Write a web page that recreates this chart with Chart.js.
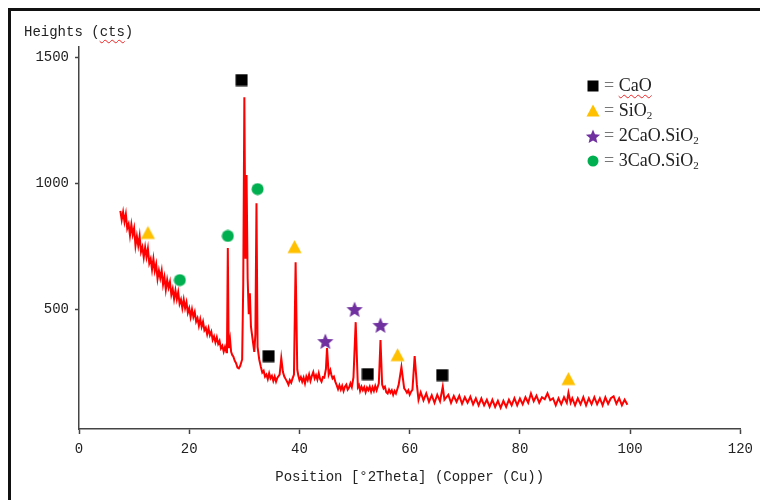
<!DOCTYPE html>
<html>
<head>
<meta charset="utf-8">
<script src="https://cdn.jsdelivr.net/npm/chart.js@4"></script>
<style>
  body { margin: 0; background: #fff; }
  #wrap { position: relative; width: 760px; height: 500px; overflow: hidden; }
  #frame { position: absolute; left: 8px; top: 8px; width: 800px; height: 600px;
           border-top: 3px solid #111; border-left: 3px solid #111; }
  canvas { position: absolute; left: 0; top: 0; }
  .ytitle { position: absolute; left: 24px; top: 24px; font: 14px "Liberation Mono", monospace;
            color: #222; line-height: 16px; white-space: nowrap; }
  .squiggle { text-decoration: underline wavy #e22; text-decoration-thickness: 1px; text-underline-offset: 3px; }
  .leg { position: absolute; font: 18px "Liberation Serif", "Times New Roman", serif; color: #222;
         line-height: 25px; height: 25px; white-space: nowrap; }
  .leg .eq { color: #777; }
  .leg sub { font-size: 11px; vertical-align: -3px; line-height: 0; }
  .mk { position: absolute; }
</style>
</head>
<body>
<div id="wrap">
  <div id="frame"></div>
  <canvas id="xrd" width="760" height="500"></canvas>
  <div class="ytitle">Heights (<span class="squiggle">cts</span>)</div>
  <div id="legend"></div>
</div>
<script>
const twoTheta = [7.5, 7.75, 8.0, 8.25, 8.5, 8.75, 9.0, 9.25, 9.5, 9.75, 10.0, 10.25, 10.5, 10.75,
  11.0, 11.25, 11.5, 11.75, 12.0, 12.25, 12.5, 12.75, 13.0, 13.25, 13.5, 13.75, 14.0, 14.25, 14.5, 14.75,
  15.0, 15.25, 15.5, 15.75, 16.0, 16.25, 16.5, 16.75, 17.0, 17.25, 17.5, 17.75, 18.0, 18.25, 18.5, 18.75,
  19.0, 19.25, 19.5, 19.75, 20.0, 20.25, 20.5, 20.75, 21.0, 21.25, 21.5, 21.75, 22.0, 22.25, 22.5, 22.75,
  23.0, 23.25, 23.5, 23.75, 24.0, 24.25, 24.5, 24.75, 25.0, 25.25, 25.5, 25.75, 26.0, 26.25, 26.5, 26.75,
  26.85, 27.0, 27.15, 27.4, 27.6, 27.8, 28.0, 28.25, 28.5, 28.75, 29.0, 29.25,
  29.6, 29.8, 30.0, 30.2, 30.4, 30.6, 30.8, 31.0, 31.2, 31.5, 31.8, 32.0, 32.2, 32.4, 32.7,
  33.0, 33.25, 33.5, 33.75, 34.0, 34.25, 34.5, 34.75, 35.0, 35.25, 35.5, 35.75, 36.0, 36.4, 36.7, 37.0,
  37.25, 37.5, 37.75, 38.0, 38.25, 38.5, 38.75, 39.0, 39.3, 39.6, 39.8, 40.0, 40.25, 40.5, 40.75, 41.0,
  41.25, 41.5, 41.75, 42.0, 42.25, 42.5, 42.75, 43.0, 43.25, 43.5, 43.75, 44.0, 44.25, 44.5, 44.8, 45.0,
  45.3, 45.6, 45.8, 46.0, 46.25, 46.5, 46.75, 47.0, 47.25, 47.5, 47.75, 48.0, 48.25, 48.5, 48.75, 49.0,
  49.25, 49.5, 49.8, 50.2, 50.6, 50.8, 51.0, 51.25, 51.5, 51.75, 52.0, 52.25, 52.5, 52.75, 53.0, 53.25,
  53.5, 53.75, 54.0, 54.4, 54.7, 55.0, 55.25, 55.5, 55.75, 56.0, 56.25, 56.5, 56.75, 57.0, 57.25, 57.5,
  57.75, 58.0, 58.5, 59.0, 59.25, 59.5, 59.75, 60.0, 60.25, 60.5, 60.9, 61.3, 61.6, 62.0, 62.5, 63.0,
  63.5, 64.0, 64.5, 65.0, 65.5, 66.0, 66.3, 67.0, 67.5, 68.0, 68.5, 69.0, 69.5, 70.0, 70.5, 71.0,
  71.5, 72.0, 72.5, 73.0, 73.5, 74.0, 74.5, 75.0, 75.5, 76.0, 76.5, 77.0, 77.5, 78.0, 78.5, 79.0,
  79.5, 80.0, 80.5, 81.0, 81.5, 82.0, 82.5, 83.0, 83.5, 84.0, 84.5, 85.0, 85.5, 86.0, 86.5, 87.0,
  87.5, 88.0, 88.5, 88.8, 89.2, 89.5, 90.0, 90.5, 91.0, 91.5, 92.0, 92.5, 93.0, 93.5, 94.0, 94.5,
  95.0, 95.5, 96.0, 96.5, 97.0, 97.5, 98.0, 98.5, 99.0, 99.5];
const counts = [890, 854, 885, 846, 877, 820, 837, 792, 835, 796, 821, 752, 789, 752,
  790, 727, 746, 705, 745, 707, 740, 682, 699, 657, 699, 652, 678, 620, 653, 623,
  653, 598, 627, 577, 616, 585, 608, 557, 580, 540, 574, 539, 567, 521, 538, 504,
  538, 504, 527, 485, 503, 469, 499, 469, 488, 450, 464, 434, 460, 430, 450, 416,
  426, 400, 424, 396, 410, 378, 392, 368, 388, 362, 374, 344, 354, 331, 350, 329,
  340, 742, 345, 380, 330, 318, 312, 295, 285, 268, 265, 275,
  300, 600, 1341, 700, 1032, 620, 480, 563, 430, 380, 330, 400, 920, 350, 300,
  270, 248, 255, 232, 240, 222, 245, 225, 235, 215, 232, 212, 228, 240, 305, 250,
  232, 222, 212, 200, 218, 208, 225, 240, 686, 260, 235, 218, 230, 212, 228, 205,
  232, 218, 240, 215, 235, 250, 225, 238, 220, 245, 222, 212, 230, 228, 262, 345,
  240, 258, 238, 225, 232, 212, 198, 182, 198, 180, 195, 175, 192, 200, 180, 188,
  205, 190, 230, 448, 190, 198, 175, 192, 178, 190, 170, 188, 178, 192, 172, 190,
  175, 195, 178, 205, 377, 200, 185, 192, 170, 165, 180, 168, 178, 160, 175, 165,
  182, 200, 270, 185, 178, 168, 178, 160, 172, 180, 313, 200, 140, 170, 138, 165,
  132, 158, 128, 160, 134, 192, 140, 160, 128, 155, 132, 156, 124, 150, 128, 152,
  122, 146, 118, 145, 118, 140, 112, 140, 112, 136, 108, 136, 112, 140, 118, 146,
  118, 145, 122, 150, 128, 165, 134, 156, 128, 150, 142, 166, 138, 146, 118, 146,
  122, 150, 128, 168, 128, 146, 118, 146, 122, 150, 118, 146, 122, 150, 122, 146,
  118, 150, 124, 146, 154, 124, 146, 118, 140, 120];

// phase markers
const caoX = [29.5, 34.4, 52.4, 65.9];
const caoY = [1409, 313, 242, 238];
const sio2X = [12.5, 39.1, 57.8, 88.8];
const sio2Y = [802, 746, 317, 222];
const c2sX = [44.7, 50.0, 54.7];
const c2sY = [373, 500, 437];
const c3sX = [18.3, 27.0, 32.4];
const c3sY = [615, 790, 976];

const xTicks = [0, 20, 40, 60, 80, 100, 120];
const yTicks = [500, 1000, 1500];

function pts(xs, ys) { return xs.map((x, i) => ({ x: x, y: ys[i] })); }

// little canvases used as point styles (Chart.js 'star' is not a filled star)
function marker(shape, color, size) {
  const c = document.createElement('canvas');
  c.width = size; c.height = size;
  const g = c.getContext('2d');
  g.fillStyle = color;
  const m = size / 2;
  if (shape === 'square') {
    g.fillRect(0.5, 0.5, size - 1, size - 1);
  } else if (shape === 'circle') {
    g.beginPath(); g.arc(m, m, m - 0.5, 0, Math.PI * 2); g.fill();
  } else if (shape === 'triangle') {
    g.beginPath(); g.moveTo(m, 0.5); g.lineTo(size - 0.5, size - 1.5); g.lineTo(0.5, size - 1.5);
    g.closePath(); g.fill();
  } else if (shape === 'star') {
    g.beginPath();
    for (let i = 0; i < 10; i++) {
      const r = i % 2 === 0 ? m - 0.5 : (m - 0.5) * 0.45;
      const a = -Math.PI / 2 + i * Math.PI / 5;
      const px = m + r * Math.cos(a), py = m + 1 + r * Math.sin(a);
      if (i === 0) g.moveTo(px, py); else g.lineTo(px, py);
    }
    g.closePath(); g.fill();
  }
  return c;
}

const black = '#000000', orange = '#FFC000', purple = '#7030A0', green = '#00B050';
const monoFont = { family: '"Liberation Mono", monospace', size: 14 };

new Chart(document.getElementById('xrd'), {
  type: 'scatter',
  data: {
    datasets: [
      { label: 'CaO', data: pts(caoX, caoY), pointStyle: marker('square', black, 13), order: 1 },
      { label: 'SiO2', data: pts(sio2X, sio2Y), pointStyle: marker('triangle', orange, 15), order: 1 },
      { label: '2CaO.SiO2', data: pts(c2sX, c2sY), pointStyle: marker('star', purple, 18), order: 1 },
      { label: '3CaO.SiO2', data: pts(c3sX, c3sY), pointStyle: marker('circle', green, 13), order: 1 },
      {
        label: 'pattern', data: pts(twoTheta, counts), showLine: true,
        borderColor: '#ff0000', borderWidth: 2, pointRadius: 0, order: 5
      }
    ]
  },
  options: {
    responsive: false,
    animation: false,
    layout: { padding: { left: 0, top: 47, right: 19, bottom: 0 } },
    plugins: { legend: { display: false }, tooltip: { enabled: false } },
    scales: {
      x: {
        type: 'linear', min: 0, max: 120,
        afterBuildTicks: s => { s.ticks = xTicks.map(v => ({ value: v })); },
        afterFit: s => { s.height = 71; },
        grid: { drawOnChartArea: false, drawTicks: true, tickLength: 5, tickColor: '#444', tickWidth: 1.5 },
        border: { display: true, color: '#444', width: 1.5 },
        ticks: { font: monoFont, color: '#222', padding: 7, maxRotation: 0, callback: v => String(v) },
        title: { display: true, text: 'Position [°2Theta] (Copper (Cu))', font: monoFont, color: '#222',
                 padding: { top: 0, bottom: 14 } }
      },
      y: {
        type: 'linear', min: 24, max: 1540,
        afterBuildTicks: s => { s.ticks = yTicks.map(v => ({ value: v })); },
        afterFit: s => { s.width = 79; },
        grid: { drawOnChartArea: false, drawTicks: true, tickLength: 4, tickColor: '#444', tickWidth: 1.5 },
        border: { display: true, color: '#444', width: 1.5 },
        ticks: { font: monoFont, color: '#222', padding: 6, callback: v => String(v) }
      }
    }
  }
});

// legend placed inside the plot, as in the original figure
const legendRows = [
  { shape: 'square', color: black, size: 12, html: '<span class="eq">=</span> <span class="squiggle">CaO</span>' },
  { shape: 'triangle', color: orange, size: 14, html: '<span class="eq">=</span> SiO<sub>2</sub>' },
  { shape: 'star', color: purple, size: 16, html: '<span class="eq">=</span> 2CaO.SiO<sub>2</sub>' },
  { shape: 'circle', color: green, size: 12, html: '<span class="eq">=</span> 3CaO.SiO<sub>2</sub>' }
];
const legendEl = document.getElementById('legend');
legendRows.forEach((r, i) => {
  const cy = 86 + i * 25;
  const m = marker(r.shape, r.color, r.size);
  m.className = 'mk';
  m.style.left = (593 - r.size / 2) + 'px';
  m.style.top = (cy - r.size / 2) + 'px';
  legendEl.appendChild(m);
  const t = document.createElement('div');
  t.className = 'leg';
  t.style.left = '604px';
  t.style.top = (cy - 13) + 'px';
  t.innerHTML = r.html;
  legendEl.appendChild(t);
});
</script>
</body>
</html>
